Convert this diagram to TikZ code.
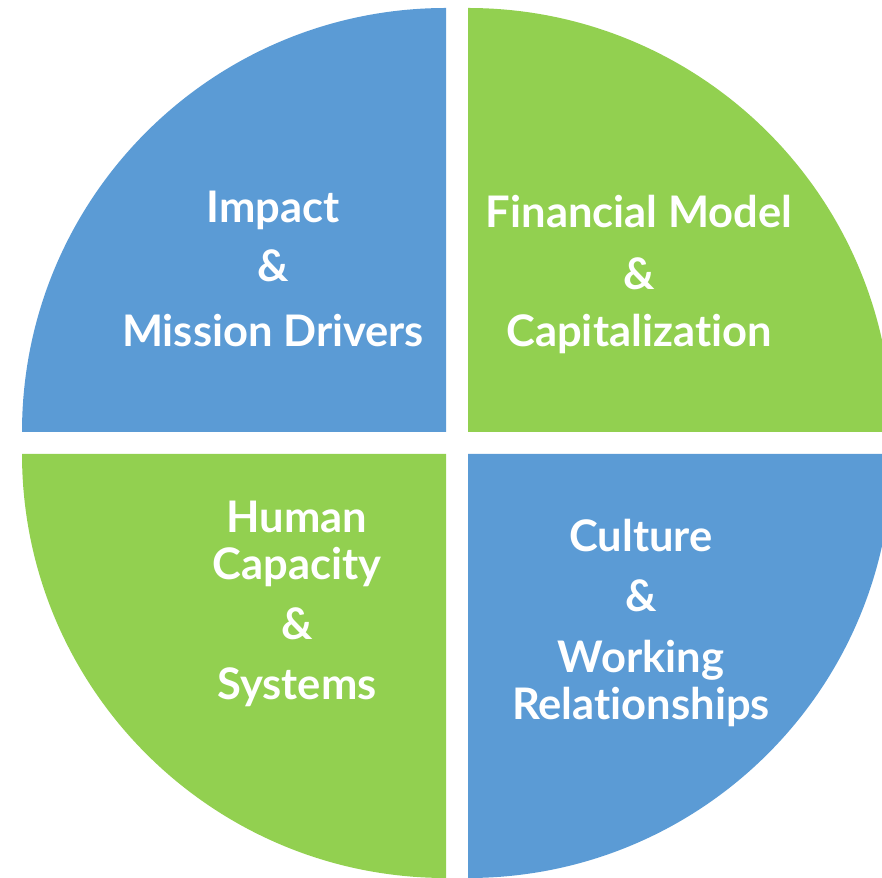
\documentclass[tikz,border=0pt]{standalone}
\usepackage{color}
\usepackage{fontspec}
\setmainfont{Lato}[Ligatures=NoCommon]
\usepackage{tikz}

\definecolor{qblue}{RGB}{91,155,213}
\definecolor{qgreen}{RGB}{146,208,80}

\begin{document}
\begin{tikzpicture}[x=1pt,y=1pt,
    lbl/.style={text=white,anchor=base,inner sep=0pt,
      font=\fontsize{43.5}{52}\selectfont\bfseries}]
  \useasboundingbox (0,0) rectangle (882,877);
  \clip (0,0) rectangle (882,877);

  % quarter discs
  \fill[qblue] (446,445) -- (22,445) arc[start angle=180,end angle=90,radius=424] -- cycle;
  \fill[qgreen] (468,445) -- (468,869) arc[start angle=90,end angle=0,radius=424] -- cycle;
  \fill[qgreen] (446,423) -- (446,-1) arc[start angle=270,end angle=180,radius=424] -- cycle;
  \fill[qblue] (468,423) -- (892,423) arc[start angle=0,end angle=-90,radius=424] -- cycle;

  % top left
  \node[lbl,at={(273,654)}] (impact) {Impact};
  \node[lbl,at={(273,595)}] (impamp) {\&};
  \node[lbl,at={(273,530)}] (mission) {Mission Drivers};

  % top right
  \node[lbl,at={(639,649)}] (financial) {Financial Model};
  \node[lbl,at={(639,587)}] (finamp) {\&};
  \node[lbl,at={(639,530)}] (capital) {Capitalization};

  % bottom left
  \node[lbl,at={(297,344)}] (human) {Human};
  \node[lbl,at={(297,297)}] (capacity) {Capacity};
  \node[lbl,at={(297,237)}] (humamp) {\&};
  \node[lbl,at={(297,177)}] (systems) {Systems};

  % bottom right
  \node[lbl,at={(641,325)}] (culture) {Culture};
  \node[lbl,at={(641,265)}] (culamp) {\&};
  \node[lbl,at={(641,204)}] (working) {Working};
  \node[lbl,at={(641,157)}] (relations) {Relationships};
\end{tikzpicture}
\end{document}
